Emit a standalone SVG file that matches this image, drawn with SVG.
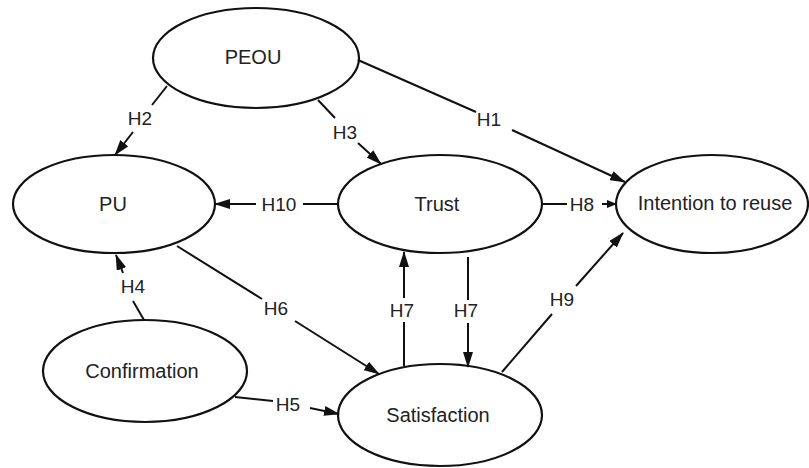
<svg xmlns="http://www.w3.org/2000/svg" width="809" height="468" viewBox="0 0 809 468">
<defs>
<style>
.node ellipse{fill:#fff;stroke:#111;stroke-width:2.2}
.node text,.lbl{font-family:"Liberation Sans",Arial,sans-serif;font-size:20px;fill:#222;text-anchor:middle}
.lbl{font-size:19px}
.conn path{fill:none;stroke:#111;stroke-width:2}
</style>
<marker id="ah" markerWidth="16" markerHeight="10" refX="15" refY="5" orient="auto" markerUnits="userSpaceOnUse">
<path d="M0,0 L16,5 L0,10 Z" fill="#111"/>
</marker>
<marker id="ahs" markerWidth="10" markerHeight="8" refX="9" refY="4" orient="auto" markerUnits="userSpaceOnUse">
<path d="M0,0 L10,4 L0,8 Z" fill="#111"/>
</marker>
</defs>
<rect width="809" height="468" fill="#fff"/>
<g id="PEOU" class="node"><ellipse cx="256" cy="58" rx="103" ry="50"/><text x="253" y="64">PEOU</text></g>
<g id="PU" class="node"><ellipse cx="114" cy="204" rx="101" ry="49"/><text x="113" y="211">PU</text></g>
<g id="Trust" class="node"><ellipse cx="440" cy="204" rx="102" ry="49"/><text x="437" y="211">Trust</text></g>
<g id="Intention" class="node"><ellipse cx="712" cy="204" rx="96" ry="49"/><text x="715" y="210">Intention to reuse</text></g>
<g id="Confirmation" class="node"><ellipse cx="145" cy="371" rx="102" ry="51"/><text x="142" y="378">Confirmation</text></g>
<g id="Satisfaction" class="node"><ellipse cx="440" cy="415" rx="102" ry="51"/><text x="438" y="422">Satisfaction</text></g>
<g id="connectors" class="conn">
<path d="M167,86 L152,105"/><path d="M133,132 L115,155" marker-end="url(#ah)"/>
<path d="M318,100 L335,118"/><path d="M358,143 L381,164" marker-end="url(#ah)"/>
<path d="M358,60 L476,112"/><path d="M512,130 L625,182" marker-end="url(#ah)"/>
<path d="M337,204 L303,204"/><path d="M256,204 L215,204" marker-end="url(#ah)"/>
<path d="M541,204 L567,204"/><path d="M602,204 L616,204" marker-end="url(#ahs)"/>
<path d="M144,320 L133,301"/><path d="M123,273 L116,255" marker-end="url(#ah)"/>
<path d="M177,246 L262,299"/><path d="M295,321 L379,374" marker-end="url(#ah)"/>
<path d="M235,397 L273,401"/><path d="M310,408 L339,414" marker-end="url(#ah)"/>
<path d="M404,366 L404,322"/><path d="M404,298 L404,252" marker-end="url(#ah)"/>
<path d="M468,257 L468,300"/><path d="M468,323 L468,367" marker-end="url(#ah)"/>
<path d="M502,372 L552,314"/><path d="M576,286 L623,233" marker-end="url(#ah)"/>
<text class="lbl" x="140" y="125">H2</text>
<text class="lbl" x="345" y="139">H3</text>
<text class="lbl" x="489" y="126">H1</text>
<text class="lbl" x="279" y="211">H10</text>
<text class="lbl" x="582" y="211">H8</text>
<text class="lbl" x="133" y="293">H4</text>
<text class="lbl" x="276" y="315">H6</text>
<text class="lbl" x="288" y="411">H5</text>
<text class="lbl" x="402" y="317">H7</text>
<text class="lbl" x="466" y="317">H7</text>
<text class="lbl" x="562" y="306">H9</text>
</g>
</svg>
